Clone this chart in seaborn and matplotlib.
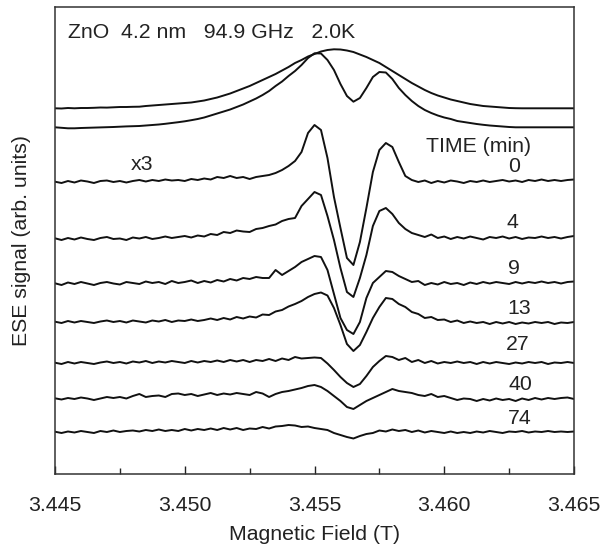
import numpy as np
import pandas as pd
import matplotlib
matplotlib.use("Agg")
import matplotlib.pyplot as plt
from matplotlib.ticker import MultipleLocator, FormatStrFormatter
import seaborn as sns

# magnetic field grid (T), 0.25 mT steps
field = [round(3.445 + 0.00025 * i, 5) for i in range(81)]

# field-swept echo spectra (arb. units)
fse_full = [
    365.7, 365.5, 366, 365.7, 366, 366, 366.2, 366.5, 366.4, 366.7, 367, 367, 367.2, 367.3, 368, 368.5,
    369, 369.5, 370, 370.5, 371, 371.5, 372.5, 373.5, 375,
    376.5, 378.5, 380.5, 383, 385.5, 388, 391, 394, 397, 400, 403.5, 407, 411, 414, 417.5, 420, 422.5,
    424, 424.7, 424.5, 423.5, 422, 419.5, 417, 414, 411, 407, 403, 399, 395, 391, 387.5,
    384, 381, 378.5, 376.5, 374.5, 373, 371.5, 370, 369, 368, 367.5, 367, 366.5, 366, 365.8,
    365.7, 365.7, 365.7, 365.7, 365.7, 365.7, 365.7, 365.7, 365.7]
fse_hole = [
    346.7, 346.2, 345.7, 345.7, 346, 346.2, 346.4, 346.6, 346.8, 347, 347.3, 347.6, 347.8, 348, 348.5,
    349, 349.5, 350.2, 351, 351.8, 352.7, 353.8, 355, 356.5, 358.5,
    360.5, 362.5, 364.5, 367, 369.5, 372.5, 375.5, 379, 383, 388, 392.5, 398, 403, 409, 416, 420.7,
    420.5, 414, 404, 390, 378, 372.3, 376, 386, 397, 402, 401.5, 395, 386, 379, 373, 368,
    364, 361, 358.5, 356.5, 355, 353, 352, 351, 350, 349.2, 348.5, 348, 347.5, 347,
    346.7, 346.7, 346.7, 346.7, 346.7, 346.7, 346.7, 346.7, 346.7, 346.7]

# difference spectra (x3) after waiting times
times = ["0", "4", "9", "13", "27", "40", "74"]
diff_t0 = [
    292.3, 291, 293, 291.5, 293.5, 292.5, 291, 293, 293.5, 292, 293, 291.5, 293, 294, 292.5, 294, 293,
    294.5, 293.5, 294, 293, 295, 294, 295.5, 294.5,
    297, 296, 298, 296, 297, 295, 297, 298, 299, 301, 304, 308, 313, 322, 341, 349, 344, 316, 277, 246,
    216, 209, 232, 266, 302, 324, 331, 327, 312, 298, 294, 292,
    293.5, 291, 293, 291.5, 293.5, 292.5, 291, 293, 292, 293.5, 292, 293, 294, 292.5, 293.5, 292, 294,
    293, 294.5, 293, 294, 293, 294, 294.5]
diff_t4 = [
    235.7, 234, 236, 234.5, 236.5, 235, 234, 236, 237, 235, 235.5, 234, 236.5, 235.5, 237, 235, 236,
    237.5, 236, 237, 238, 236.5, 238.5, 237.5, 240,
    239, 242, 241, 243.5, 242.5, 242, 245, 246, 248, 249.5, 253, 255, 256, 268, 275, 282, 279, 258, 234,
    206, 182, 177, 196, 219, 248, 263, 266, 260, 251, 245, 241, 239,
    237, 239.5, 236, 237.5, 235, 237, 235.5, 237.5, 236, 234.5, 237, 236, 237.5, 235.5, 237, 235, 236.5,
    236, 237.5, 236, 237, 235.5, 237, 238]
diff_t9 = [
    190.7, 189, 191.5, 190, 192, 190.5, 189, 191, 192, 190.5, 189.5, 192, 191, 190, 192.5, 191, 192,
    190, 193, 191, 192, 193.5, 191, 193, 191.5,
    194, 192.5, 195, 193.5, 196, 195, 197, 196, 196, 204, 199, 203, 207, 212, 215, 218, 217, 204, 180,
    156, 144, 140, 152, 176, 191, 197, 203, 202, 198, 195, 192, 193,
    189, 191, 189.5, 192, 190, 191, 189, 191.5, 190, 192, 190.5, 192, 191, 190, 192, 190.5, 192, 191,
    192.5, 191, 192, 190.5, 192, 192.5]
diff_t13 = [
    152.3, 151, 153, 151.5, 153, 152, 151, 152.5, 153.5, 152, 153, 151.5, 153.5, 152.5, 151.5, 153.5,
    152.5, 154, 152, 153.5, 153, 154.5, 153, 154, 155.5,
    154, 156, 154.5, 157, 155.5, 157.5, 156.5, 159.5, 159, 162.5, 164, 167.5, 170, 173, 177, 180, 181.5,
    178.5, 166, 149, 130, 123, 129, 142, 156, 167, 176, 175, 170, 167, 162, 160,
    156, 157, 154, 154.5, 152, 153.5, 151, 152.5, 151, 152, 150, 152, 150.5, 152, 150, 151.5, 150.5,
    152, 151, 152, 150, 151.5, 151, 152]
diff_t27 = [
    111.3, 110, 112, 110.5, 112, 111, 110, 111.5, 112.5, 111, 112, 110.5, 112.5, 111.5, 113, 111, 112.5,
    111.5, 113, 112, 111, 113, 111.5, 113, 112,
    113.5, 112, 114, 112.5, 114, 112, 114, 113, 115, 113, 115.5, 114, 117, 115.5, 116, 116.5, 116, 110.5,
    104, 97, 91, 87, 90, 98, 107, 113, 118, 117, 114, 116, 112, 114,
    111, 113, 110.5, 112, 111, 112.5, 111, 112, 110, 112, 110.5, 112, 111, 110, 111.5, 110.5, 112, 111,
    112, 110, 111.5, 111, 112, 111]
diff_t40 = [
    75.7, 74.5, 76, 75, 76.5, 75.5, 74, 75.5, 77, 76, 77, 75.5, 78, 80, 77, 78, 78.5, 77, 80, 80.5, 79,
    80, 78, 79.5, 81,
    79, 80.5, 79.5, 81, 80, 79, 82, 80.5, 77, 80, 82, 83, 84.5, 86, 88, 89, 87, 83, 78, 73, 67, 65, 69,
    73, 76, 79, 82, 85, 83, 82, 81, 79,
    78, 80, 77, 78, 76, 74, 75.5, 75, 73, 75, 73.5, 75.5, 74, 75, 73, 75.5, 74, 76, 74.5, 76, 75, 76,
    76.5, 75]
diff_t74 = [
    42.3, 41, 42.5, 41.5, 43, 42, 41, 43, 42, 43.5, 42, 43, 43.5, 42.5, 44, 43, 44.5, 43, 44, 43, 45,
    43.5, 45, 44, 45.5,
    44, 46, 44.5, 46, 44, 45.5, 45, 47, 45.5, 47.5, 48, 49, 48.5, 47, 47.5, 46, 45, 44, 41, 39, 37, 35.5,
    38, 40, 41, 43.5, 42.5, 44.5, 43, 44, 42, 43.5,
    41.5, 43, 42, 41, 42.5, 41, 42, 41, 42.5, 41.5, 43, 42, 41, 42.5, 42, 43, 41.5, 42.5, 42, 43, 42,
    42.5, 42, 42.5]

# label positions for the waiting times (field, signal)
time_label_x = [3.46269, 3.46261, 3.46269, 3.4629, 3.46283, 3.46292, 3.4629]
time_label_y = [307, 251, 206, 166, 129, 89, 55]

spectra = {"full": fse_full, "hole": fse_hole}
for t, s in zip(times, [diff_t0, diff_t4, diff_t9, diff_t13, diff_t27, diff_t40, diff_t74]):
    spectra["t" + t] = s

df = pd.concat([pd.DataFrame({"field": field, "signal": s, "trace": k}) for k, s in spectra.items()],
               ignore_index=True)

sns.set_style("white")
plt.rcParams["font.family"] = ["Liberation Sans", "DejaVu Sans"]
fs = 15.3

fig = plt.figure(figsize=(6.01, 5.45), dpi=100)
ax = fig.add_axes([55 / 601, 71 / 545, 519 / 601, 467 / 545])

sns.lineplot(data=df, x="field", y="signal", units="trace", estimator=None,
             color="#111111", linewidth=1.4, ax=ax, legend=False)

ax.set_xlim(3.445, 3.465)
ax.set_ylim(0, 467)
ax.xaxis.set_major_locator(MultipleLocator(0.005))
ax.xaxis.set_minor_locator(MultipleLocator(0.0025))
ax.xaxis.set_major_formatter(FormatStrFormatter("%.3f"))
ax.set_yticks([])
ax.tick_params(axis="x", which="major", direction="in", length=6, width=1, pad=16,
               labelsize=fs, colors="#222222", bottom=True, top=False)
ax.tick_params(axis="x", which="minor", direction="in", length=4, width=1, bottom=True, top=False)
for sp in ax.spines.values():
    sp.set_color("#333333")
    sp.set_linewidth(1.1)

ax.set_xlabel("Magnetic Field (T)", fontsize=fs, labelpad=7, color="#222222")
ax.set_ylabel("ESE signal (arb. units)", fontsize=fs, labelpad=17, color="#222222")

ax.text(3.4455, 442, "ZnO  4.2 nm   94.9 GHz   2.0K", fontsize=fs, ha="left", va="center",
        color="#222222")
ax.text(3.46134, 327, "TIME (min)", fontsize=fs, ha="center", va="center", color="#222222")
for t, lx, ly in zip(times, time_label_x, time_label_y):
    ax.text(lx, ly, t, fontsize=fs, ha="center", va="center", color="#222222")
ax.text(3.44834, 309, "x3", fontsize=fs, ha="center", va="center", color="#222222")

fig.savefig("out.png", dpi=100)
